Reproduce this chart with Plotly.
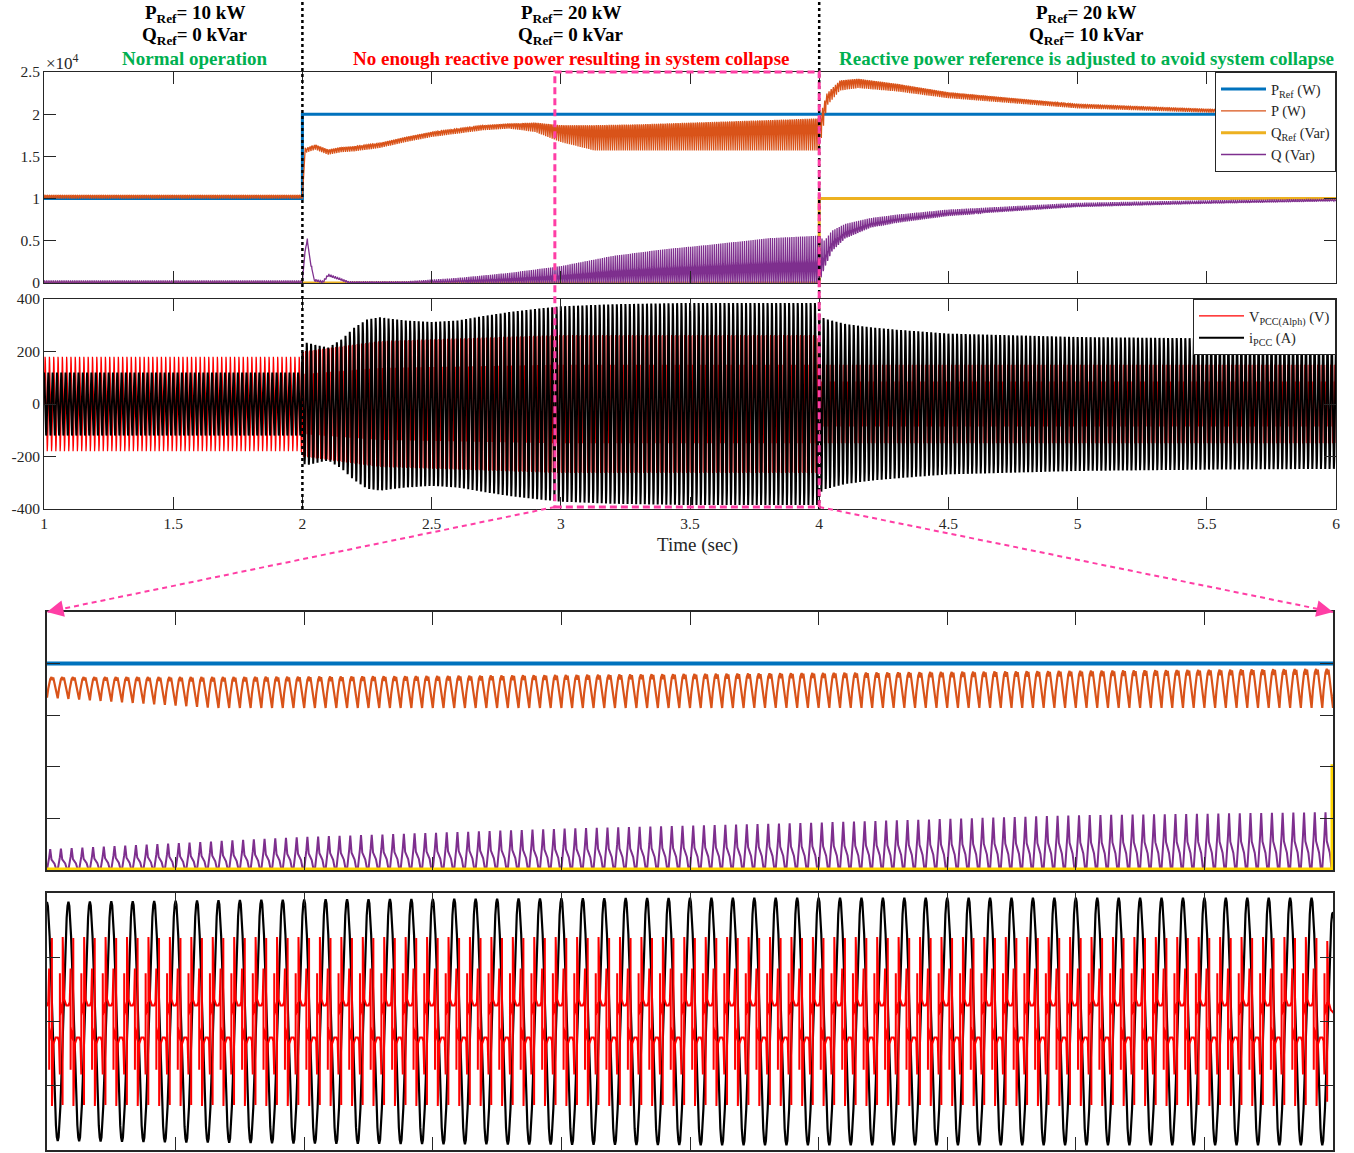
import numpy as np
import plotly.graph_objects as go

W, H = 1354, 1153

# ------------------------------------------------------------------
# DATA
# ------------------------------------------------------------------
# reference set-points (W / Var)
pref_t = [1.0, 2.0, 2.0, 6.0]
pref_w = [10000, 10000, 20000, 20000]
qref_t = [1.0, 4.0, 4.0, 6.0]
qref_var = [0, 0, 10000, 10000]

# active power P: lower / upper envelope of its 120 Hz ripple (x1e4 W)
p_env_t = [1.0, 1.995, 2.0, 2.01, 2.05, 2.1, 2.15, 2.2, 2.3, 2.4, 2.5, 2.6, 2.7, 2.8,
           2.9, 3.0, 3.13, 3.3, 3.5, 3.8, 3.995, 4.0, 4.03, 4.08, 4.15, 4.3, 4.5,
           5.0, 5.5, 6.0]
p_env_lo = [1.00, 1.00, 1.00, 1.54, 1.58, 1.52, 1.55, 1.56, 1.60, 1.67, 1.73, 1.77,
            1.81, 1.83, 1.79, 1.67, 1.57, 1.57, 1.57, 1.57, 1.57, 1.57, 2.10, 2.28,
            2.31, 2.27, 2.19, 2.07, 2.02, 2.00]
p_env_hi = [1.04, 1.04, 1.04, 1.60, 1.64, 1.58, 1.61, 1.62, 1.66, 1.73, 1.79, 1.83,
            1.87, 1.89, 1.90, 1.87, 1.87, 1.88, 1.90, 1.93, 1.95, 1.95, 2.25, 2.40,
            2.42, 2.36, 2.26, 2.12, 2.06, 2.03]
# one ripple period of P (normalised 0..1)
p_ripple_phase = [0.0, 0.12, 0.30, 0.42, 0.50, 0.58, 0.75, 0.90]
p_ripple_level = [0.0, 0.45, 0.90, 1.00, 0.85, 0.98, 0.55, 0.10]

# reactive power Q: lower / upper envelope (x1e4 Var)
q_env_t = [1.0, 1.995, 2.0, 2.008, 2.018, 2.03, 2.045, 2.08, 2.1, 2.13, 2.18, 2.4,
           2.6, 2.8, 3.0, 3.2, 3.4, 3.6, 3.8, 3.995, 4.0, 4.02, 4.05, 4.1, 4.2, 4.3,
           4.5, 5.0, 5.5, 6.0]
q_env_lo = [0.0, 0.0, 0.0, 0.30, 0.50, 0.25, 0.02, 0.0, 0.08, 0.05, 0.0, 0.0,
            0.0, 0.0, 0.0, 0.0, 0.0, 0.0, 0.0, 0.0, 0.0, 0.18, 0.38, 0.53, 0.66, 0.72,
            0.80, 0.90, 0.94, 0.97]
q_env_hi = [0.03, 0.03, 0.03, 0.35, 0.55, 0.30, 0.05, 0.03, 0.11, 0.08, 0.02, 0.02,
            0.06, 0.12, 0.20, 0.32, 0.40, 0.46, 0.53, 0.56, 0.56, 0.50, 0.62, 0.70,
            0.77, 0.81, 0.87, 0.95, 0.98, 1.00]
q_ripple_phase = [0.0, 0.20, 0.30, 0.42, 0.55, 0.70, 0.88]
q_ripple_level = [0.02, 0.60, 1.00, 0.50, 0.42, 0.30, 0.00]

# PCC current: amplitude envelope (A)
i_env_t = [1.0, 1.995, 2.0, 2.01, 2.05, 2.1, 2.15, 2.2, 2.25, 2.3, 2.4, 2.5, 2.6,
           2.7, 2.8, 2.9, 3.0, 3.2, 3.5, 3.995, 4.0, 4.02, 4.1, 4.2, 4.3, 4.5, 5.0,
           5.5, 6.0]
i_env_amp = [120, 120, 200, 235, 225, 215, 245, 290, 322, 330, 318, 312, 318, 335,
             350, 362, 372, 380, 385, 385, 340, 325, 305, 292, 283, 268, 255, 250, 247]

# PCC voltage (alpha): amplitude envelope (V)
v_env_t = [1.0, 1.995, 2.0, 2.3, 3.0, 3.995, 4.0, 6.0]
v_env_amp = [180, 180, 200, 240, 263, 263, 150, 150]
# one distorted voltage period after t = 2 s (V at full amplitude 263)
v_shape_phase = [0.000, 0.060, 0.100, 0.102, 0.108, 0.160, 0.225, 0.227, 0.233, 0.300,
                 0.400, 0.500, 0.560, 0.600, 0.602, 0.608, 0.660, 0.725, 0.727, 0.733,
                 0.800, 0.900]
v_shape_val = [50, 60, 165, -150, -20, -40, -60, 260, -263, -70, -50, -50, -60, -165,
               150, 20, 40, 60, -260, 263, 70, 50]

grid_freq = 60.0  # Hz

time_ticks = [1, 1.5, 2, 2.5, 3, 3.5, 4, 4.5, 5, 5.5, 6]
time_tick_text = ["1", "1.5", "2", "2.5", "3", "3.5", "4", "4.5", "5", "5.5", "6"]
power_ticks = [0, 5000, 10000, 15000, 20000, 25000]
power_tick_text = ["0", "0.5", "1", "1.5", "2", "2.5"]
volt_ticks = [-400, -200, 0, 200, 400]
volt_tick_text = ["-400", "-200", "0", "200", "400"]
zoom_time_ticks = [3.1, 3.2, 3.3, 3.4, 3.5, 3.6, 3.7, 3.8, 3.9]

# ------------------------------------------------------------------
# waveform construction from the envelopes
# ------------------------------------------------------------------
def rippled(env_t, lo, hi, ph, lev, f, t0=1.0, t1=6.0):
    n = int(round((t1 - t0) * f))
    ph = np.asarray(ph); lev = np.asarray(lev)
    t = (t0 + (np.arange(n)[:, None] + ph[None, :]) / f).ravel()
    t = np.append(t, t1)
    lv = np.append(np.tile(lev, n), lev[0])
    l = np.interp(t, env_t, lo); h = np.interp(t, env_t, hi)
    return t, (l + (h - l) * lv) * 1e4

tP, P = rippled(p_env_t, p_env_lo, p_env_hi, p_ripple_phase, p_ripple_level, 2 * grid_freq)
tQ, Q = rippled(q_env_t, q_env_lo, q_env_hi, q_ripple_phase, q_ripple_level, 2 * grid_freq)

f0 = grid_freq
ncyc = int(round(5 * f0))
phb = np.linspace(0, 1, 24, endpoint=False)
tI = np.append((1 + (np.arange(ncyc)[:, None] + phb[None, :]) / f0).ravel(), 6.0)
I = np.interp(tI, i_env_t, i_env_amp) * np.cos(2 * np.pi * f0 * tI)

npre = int(round(1 * f0))
tV1 = (1 + (np.arange(npre)[:, None] + phb[None, :]) / f0).ravel()
V1 = np.interp(tV1, v_env_t, v_env_amp) * np.sin(2 * np.pi * f0 * tV1)
sp = np.asarray(v_shape_phase); sv = np.asarray(v_shape_val, float) / 263.0
npost = ncyc - npre
tV2 = (2 + (np.arange(npost)[:, None] + sp[None, :]) / f0).ravel()
tV2 = np.append(tV2, 6.0)
V2 = np.interp(tV2, v_env_t, v_env_amp) * np.append(np.tile(sv, npost), sv[0])
tV = np.concatenate([tV1, tV2]); V = np.concatenate([V1, V2])

def window(t, y, a=2.99, b=4.01):
    m = (t >= a) & (t <= b)
    return t[m], y[m]

# ------------------------------------------------------------------
# layout geometry (pixels)
# ------------------------------------------------------------------
MX0, MX1 = 44, 1336
P1T, P1B = 72, 283
P2T, P2B = 299, 509
ZX0, ZX1 = 47, 1333
Z1T, Z1B = 612, 870
Z2T, Z2B = 893, 1150

def px(x): return x / W
def py(y): return 1 - y / H
def t2px(t): return MX0 + (t - 1) / 5 * (MX1 - MX0)

BLUE, ORANGE, YELLOW, PURPLE = "#0072BD", "#D95319", "#EDB120", "#7E2F8E"
GOLD = "#FFD500"
PINK = "#FF3EA5"
FONT = "Liberation Serif"
AX = "#262626"

fig = go.Figure()

# panel 1 : powers
fig.add_trace(go.Scatter(x=pref_t, y=pref_w, mode="lines", name="P<sub>Ref</sub> (W)",
                         line=dict(color=BLUE, width=3), xaxis="x", yaxis="y", legend="legend"))
fig.add_trace(go.Scatter(x=tP, y=P, mode="lines", name="P (W)",
                         line=dict(color=ORANGE, width=1.3), xaxis="x", yaxis="y", legend="legend"))
fig.add_trace(go.Scatter(x=qref_t, y=qref_var, mode="lines", name="Q<sub>Ref</sub> (Var)",
                         line=dict(color=YELLOW, width=3), xaxis="x", yaxis="y", legend="legend"))
fig.add_trace(go.Scatter(x=tQ, y=Q, mode="lines", name="Q (Var)",
                         line=dict(color=PURPLE, width=1.3), xaxis="x", yaxis="y", legend="legend"))

# panel 2 : voltage / current
fig.add_trace(go.Scatter(x=tV, y=V, mode="lines", name="V<sub>PCC(Alph)</sub> (V)",
                         line=dict(color="#FF0000", width=1.2), xaxis="x2", yaxis="y2", legend="legend2"))
fig.add_trace(go.Scatter(x=tI, y=I, mode="lines", name="i<sub>PCC</sub> (A)",
                         line=dict(color="#000000", width=2.0), xaxis="x2", yaxis="y2", legend="legend2"))

# zoom 1
fig.add_trace(go.Scatter(x=pref_t, y=pref_w, mode="lines", showlegend=False,
                         line=dict(color=BLUE, width=4), xaxis="x3", yaxis="y3"))
zt, zy = window(tP, P)
fig.add_trace(go.Scatter(x=zt, y=zy, mode="lines", showlegend=False,
                         line=dict(color=ORANGE, width=2.2), xaxis="x3", yaxis="y3"))
zt, zy = window(tQ, Q)
fig.add_trace(go.Scatter(x=zt, y=zy, mode="lines", showlegend=False,
                         line=dict(color=PURPLE, width=2), xaxis="x3", yaxis="y3"))
fig.add_trace(go.Scatter(x=qref_t, y=qref_var, mode="lines", showlegend=False,
                         line=dict(color=GOLD, width=5), xaxis="x3", yaxis="y3"))

# zoom 2
zt, zy = window(tI, I)
fig.add_trace(go.Scatter(x=zt, y=zy, mode="lines", showlegend=False,
                         line=dict(color="#000000", width=2.2), xaxis="x4", yaxis="y4"))
zt, zy = window(tV, V)
fig.add_trace(go.Scatter(x=zt, y=zy, mode="lines", showlegend=False,
                         line=dict(color="#FF0000", width=2), xaxis="x4", yaxis="y4"))

tickfont = dict(family=FONT, size=15.5, color=AX)

def xax(dom, anchor, rng, tv, tt, labels, lw=1, tl=12):
    return dict(domain=dom, anchor=anchor, range=rng, tickvals=tv, ticktext=tt,
                showticklabels=labels, ticks="inside", ticklen=tl, tickcolor=AX, tickwidth=1,
                showline=True, linecolor=AX, linewidth=lw, mirror="ticks", automargin=False,
                showgrid=False, zeroline=False, tickfont=tickfont, fixedrange=True)

yax = xax
main_dom = [px(MX0), px(MX1)]
zoom_dom = [px(ZX0), px(ZX1)]

fig.update_layout(
    width=W, height=H, margin=dict(l=0, r=0, t=0, b=0, pad=0), autosize=False,
    paper_bgcolor="white", plot_bgcolor="white",
    font=dict(family=FONT, size=15, color=AX),
    xaxis=xax(main_dom, "y", [1, 6], time_ticks, time_tick_text, False),
    yaxis=yax([py(P1B), py(P1T)], "x", [0, 25000], power_ticks, power_tick_text, True),
    xaxis2=xax(main_dom, "y2", [1, 6], time_ticks, time_tick_text, True),
    yaxis2=yax([py(P2B), py(P2T)], "x2", [-400, 400], volt_ticks, volt_tick_text, True),
    xaxis3=xax(zoom_dom, "y3", [3, 4], zoom_time_ticks, None, False, lw=2, tl=13),
    yaxis3=yax([py(Z1B), py(Z1T)], "x3", [0, 25000], power_ticks, None, False, lw=2, tl=13),
    xaxis4=xax(zoom_dom, "y4", [3, 4], zoom_time_ticks, None, False, lw=2, tl=13),
    yaxis4=yax([py(Z2B), py(Z2T)], "x4", [-400, 400], volt_ticks, None, False, lw=2, tl=13),
    legend=dict(x=px(MX1), xanchor="right", y=py(P1T), yanchor="top",
                bgcolor="white", bordercolor=AX, borderwidth=1, itemwidth=45,
                font=dict(family=FONT, size=14.5, color=AX), tracegroupgap=0),
    legend2=dict(x=px(MX1), xanchor="right", y=py(P2T), yanchor="top",
                 bgcolor="white", bordercolor=AX, borderwidth=1, itemwidth=45,
                 font=dict(family=FONT, size=14.5, color=AX), tracegroupgap=0),
)

# ---------------- annotations ----------------
ann = []
def txt(x, y, s, color="#000000", size=19):
    ann.append(dict(x=px(x), y=py(y), xref="paper", yref="paper", text=s, showarrow=False,
                    xanchor="center", yanchor="middle",
                    font=dict(family=FONT, size=size, color=color)))

txt(195, 14, "<b>P<sub>Ref</sub>= 10 kW</b>")
txt(195, 36, "<b>Q<sub>Ref</sub>= 0 kVar</b>")
txt(195, 58, "<b>Normal operation</b>", "#00B050")
txt(571, 14, "<b>P<sub>Ref</sub>= 20 kW</b>")
txt(571, 36, "<b>Q<sub>Ref</sub>= 0 kVar</b>")
txt(571, 58, "<b>No enough reactive power resulting in system collapse</b>", "#FF0000")
txt(1086, 14, "<b>P<sub>Ref</sub>= 20 kW</b>")
txt(1086, 36, "<b>Q<sub>Ref</sub>= 10 kVar</b>")
txt(1086, 58, "<b>Reactive power reference is adjusted to avoid system collapse</b>", "#00B050")
txt(697, 545, "Time (sec)", AX, 19)
ann.append(dict(x=px(44), y=py(62), xref="paper", yref="paper", text="×10<sup>4</sup>",
                showarrow=False, xanchor="left", yanchor="middle",
                font=dict(family=FONT, size=17, color=AX)))

RECT_L = 2.977
tails = [(t2px(RECT_L), 507), (t2px(4.0), 507)]
heads = [(ZX0, Z1T), (ZX1, Z1T)]
shapes = []
for (xt, yt), (xh, yh) in zip(tails, heads):
    shapes.append(dict(type="line", xref="paper", yref="paper", x0=px(xt), y0=py(yt),
                       x1=px(xh), y1=py(yh), line=dict(color=PINK, width=2, dash="5px,4px"),
                       layer="above"))
    dx, dy = xt - xh, yt - yh
    L = np.hypot(dx, dy)
    ann.append(dict(x=px(xh), y=py(yh), xref="paper", yref="paper", text="",
                    showarrow=True, ax=dx / L * 16, ay=dy / L * 16, arrowhead=2,
                    arrowsize=1.5, arrowwidth=2.2, arrowcolor=PINK, standoff=0))

# black dotted event lines
for tv in (2.0, 4.0):
    shapes.append(dict(type="line", xref="x", yref="paper", x0=tv, x1=tv, y0=py(P2B), y1=1.0,
                       line=dict(color="#000000", width=2.5, dash="dot"), layer="above"))
# pink dashed zoom rectangle
shapes.append(dict(type="rect", xref="x", yref="paper", x0=RECT_L, x1=4.0,
                   y0=py(507), y1=py(P1T), line=dict(color=PINK, width=3, dash="7px,4px"),
                   fillcolor="rgba(0,0,0,0)", layer="above"))

fig.update_layout(annotations=ann, shapes=shapes)
fig.write_html("out.html", config={"displayModeBar": False},
               post_script="document.body.style.margin='0px';"
                           "document.body.style.padding='0px';"
                           "document.documentElement.style.overflow='hidden';")
